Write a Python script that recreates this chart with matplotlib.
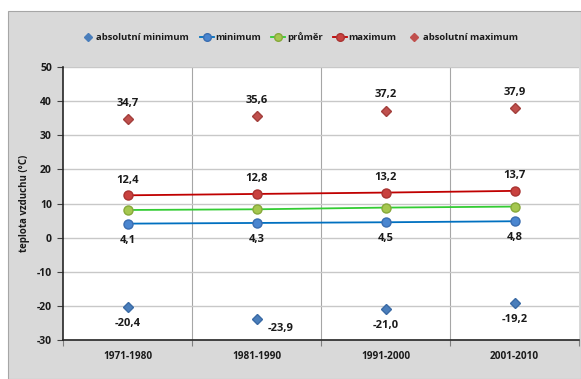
import matplotlib
matplotlib.use("Agg")
import matplotlib.pyplot as plt
from matplotlib.patches import Rectangle
from matplotlib.lines import Line2D

periods = ["1971-1980", "1981-1990", "1991-2000", "2001-2010"]
abs_min = [-20.4, -23.9, -21.0, -19.2]
minimum = [4.1, 4.3, 4.5, 4.8]
prumer = [8.1, 8.3, 8.8, 9.1]
maximum = [12.4, 12.8, 13.2, 13.7]
abs_max = [34.7, 35.6, 37.2, 37.9]
y_ticks = [-30, -20, -10, 0, 10, 20, 30, 40, 50]

plt.rcParams['font.family'] = ['Open Sans', 'DejaVu Sans']
plt.rcParams['font.weight'] = 'bold'

W, H = 581, 379
fig = plt.figure(figsize=(W / 100, H / 100), dpi=100)
fig.patch.set_facecolor("white")

# grey chart frame
fig.patches.append(Rectangle((8 / W, 0), (W - 8) / W, (H - 11) / H,
                             transform=fig.transFigure, facecolor="#D9D9D9",
                             edgecolor="#A6A6A6", linewidth=0.8, zorder=-10))

ax = fig.add_axes([63 / W, 39 / H, 516 / W, 273 / H])
ax.set_zorder(2)
ax.set_facecolor("white")
x = list(range(len(periods)))

ax.set_xlim(-0.5, len(periods) - 0.5)
ax.set_ylim(-30, 50)
ax.set_yticks(y_ticks)
ax.set_yticklabels([str(v) for v in y_ticks])
ax.set_xticks(x)
ax.set_xticklabels(periods)
ax.set_xticks([i - 0.5 for i in range(len(periods) + 1)], minor=True)
ax.tick_params(axis="x", which="major", length=0, pad=8, labelsize=7.2, labelcolor="#1A1A1A")
ax.tick_params(axis="x", which="minor", length=4, color="#7F7F7F", width=0.8)
ax.tick_params(axis="y", length=4, color="#404040", width=0.8, labelsize=7.5,
               pad=4, labelcolor="#1A1A1A")
for lab in ax.get_xticklabels() + ax.get_yticklabels():
    lab.set_fontweight("bold")

ax.grid(axis="y", color="#C8C8C8", linewidth=1.0)
for b in [i - 0.5 for i in range(1, len(periods))]:
    ax.axvline(b, color="#A6A6A6", linewidth=0.8, zorder=0.5)
ax.set_axisbelow(True)
for side in ["top", "right"]:
    ax.spines[side].set_visible(False)
ax.spines["left"].set_color("#262626")
ax.spines["bottom"].set_color("#262626")
ax.spines["left"].set_linewidth(1.2)
ax.spines["bottom"].set_linewidth(1.2)

ax.set_ylabel("teplota vzduchu (°C)", fontsize=7, fontweight="bold",
              labelpad=5, color="#1A1A1A")

ms = 6.5
lw = 1.3
ax.plot(x, abs_min, linestyle="none", marker="D", markersize=4.8,
        color="#4A7EBB", markeredgecolor="#3A6AA5", zorder=4)
ax.plot(x, minimum, color="#0070C0", linewidth=lw, marker="o", markersize=ms,
        markerfacecolor="#4A86D0", markeredgecolor="#3A6DB0", zorder=4)
ax.plot(x, prumer, color="#33CC33", linewidth=lw, marker="o", markersize=ms,
        markerfacecolor="#A5C74F", markeredgecolor="#86A83A", zorder=4)
ax.plot(x, maximum, color="#C00000", linewidth=lw, marker="o", markersize=ms,
        markerfacecolor="#C9423F", markeredgecolor="#A93331", zorder=4)
ax.plot(x, abs_max, linestyle="none", marker="D", markersize=4.8,
        color="#C0504D", markeredgecolor="#A33F3C", zorder=4)

def fmt(v):
    return f"{v:.1f}".replace(".", ",")

lab_kw = dict(ha="center", va="center", fontsize=8, fontweight="bold",
              color="#1A1A1A", textcoords="offset points", zorder=5)
for i in x:
    ax.annotate(fmt(abs_max[i]), (i, abs_max[i]), xytext=(0, 11.5), **lab_kw)
    ax.annotate(fmt(maximum[i]), (i, maximum[i]), xytext=(0, 11), **lab_kw)
    ax.annotate(fmt(minimum[i]), (i, minimum[i]), xytext=(0, -12), **lab_kw)
    off = (17, -7) if i == 1 else (0, -11.5)
    ax.annotate(fmt(abs_min[i]), (i, abs_min[i]), xytext=off, **lab_kw)

handles = [
    Line2D([], [], linestyle="none", marker="D", markersize=4, color="#4A7EBB"),
    Line2D([], [], color="#0070C0", linewidth=lw, marker="o", markersize=5.5,
           markerfacecolor="#4A86D0", markeredgecolor="#3A6DB0"),
    Line2D([], [], color="#33CC33", linewidth=lw, marker="o", markersize=5.5,
           markerfacecolor="#A5C74F", markeredgecolor="#86A83A"),
    Line2D([], [], color="#C00000", linewidth=lw, marker="o", markersize=5.5,
           markerfacecolor="#C9423F", markeredgecolor="#A93331"),
    Line2D([], [], linestyle="none", marker="D", markersize=4, color="#C0504D"),
]
names = ["absolutní minimum", "minimum", "průměr", "maximum", "absolutní maximum"]
leg = fig.legend(handles, names, loc="center", bbox_to_anchor=(0.515, 1 - 37 / H),
                 ncol=5, frameon=False, handlelength=1.5,
                 handletextpad=0.15, columnspacing=1.1,
                 prop={"weight": "bold", "size": 6.8})
for t in leg.get_texts():
    t.set_color("#1A1A1A")

fig.savefig("out.png", dpi=100, facecolor=fig.get_facecolor())
